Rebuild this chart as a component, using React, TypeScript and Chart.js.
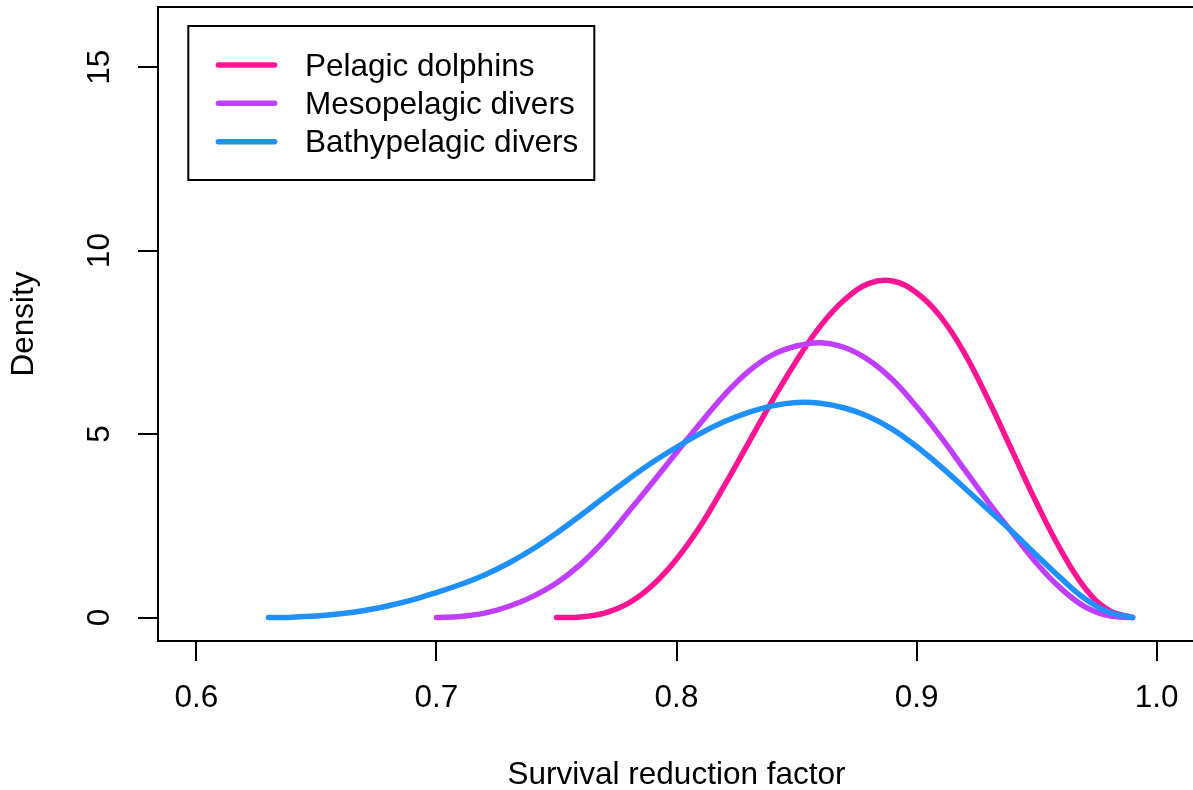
import React, { useEffect, useRef } from "react";
import { Chart, registerables } from "chart.js";

Chart.register(...registerables);

const FONT = "'Liberation Sans', Arial, Helvetica, sans-serif";
const FONT_SIZE = 31.5;

const SERIES_LABELS = ["Pelagic dolphins", "Mesopelagic divers", "Bathypelagic divers"];
const SERIES_COLORS = ["#FF1493", "#BF3EFF", "#1E90FF"];

const PELAGIC_X = [0.75, 0.76, 0.77, 0.78, 0.79, 0.8, 0.81, 0.82, 0.83, 0.84, 0.85, 0.86, 0.87, 0.88, 0.89, 0.9, 0.91, 0.92, 0.93, 0.94, 0.95, 0.96, 0.97, 0.98, 0.99];
const PELAGIC_Y = [0, 0.015, 0.12, 0.39, 0.88, 1.59, 2.5, 3.6, 4.76, 5.92, 7.0, 7.95, 8.66, 9.1, 9.17, 8.85, 8.2, 7.2, 5.92, 4.52, 3.12, 1.85, 0.82, 0.2, 0];

const MESO_X = [0.7, 0.71, 0.72, 0.73, 0.74, 0.75, 0.76, 0.77, 0.78, 0.79, 0.8, 0.81, 0.82, 0.83, 0.84, 0.85, 0.86, 0.87, 0.88, 0.89, 0.9, 0.91, 0.92, 0.93, 0.94, 0.95, 0.96, 0.97, 0.98, 0.99];
const MESO_Y = [0, 0.03, 0.12, 0.3, 0.57, 0.94, 1.45, 2.1, 2.88, 3.68, 4.5, 5.3, 6.07, 6.71, 7.16, 7.4, 7.49, 7.36, 7.02, 6.48, 5.75, 4.93, 4.03, 3.14, 2.3, 1.48, 0.8, 0.3, 0.05, 0];

const BATHY_X = [0.63, 0.64, 0.65, 0.66, 0.67, 0.68, 0.69, 0.7, 0.71, 0.72, 0.73, 0.74, 0.75, 0.76, 0.77, 0.78, 0.79, 0.8, 0.81, 0.82, 0.83, 0.84, 0.85, 0.86, 0.87, 0.88, 0.89, 0.9, 0.91, 0.92, 0.93, 0.94, 0.95, 0.96, 0.97, 0.98, 0.99];
const BATHY_Y = [0, 0.01, 0.04, 0.1, 0.19, 0.32, 0.48, 0.68, 0.9, 1.16, 1.48, 1.86, 2.3, 2.78, 3.28, 3.77, 4.23, 4.64, 5.02, 5.34, 5.59, 5.77, 5.86, 5.84, 5.71, 5.48, 5.13, 4.66, 4.12, 3.53, 2.93, 2.33, 1.7, 1.08, 0.52, 0.15, 0];

const X_TICKS = [0.6, 0.7, 0.8, 0.9, 1.0];
const X_TICK_LABELS = ["0.6", "0.7", "0.8", "0.9", "1.0"];
const Y_TICKS = [0, 5, 10, 15];
const Y_TICK_LABELS = ["0", "5", "10", "15"];
const X_LIMITS = [0.584, 1.016];
const Y_LIMITS = [-0.64, 16.64];
const X_TITLE = "Survival reduction factor";
const Y_TITLE = "Density";

const toPoints = (xs: number[], ys: number[]) => xs.map((x, i) => ({ x, y: ys[i] }));

const boxPlugin = {
  id: "rbox",
  afterDatasetsDraw(chart: any) {
    const { ctx, chartArea } = chart;
    ctx.save();
    ctx.strokeStyle = "#000";
    ctx.lineWidth = 2;
    ctx.strokeRect(chartArea.left, chartArea.top, chartArea.right - chartArea.left, chartArea.bottom - chartArea.top);
    ctx.restore();
  },
};

const legendPlugin = {
  id: "rlegend",
  afterDraw(chart: any) {
    const { ctx } = chart;
    ctx.save();
    ctx.strokeStyle = "#000";
    ctx.lineWidth = 2;
    ctx.strokeRect(188.3, 26, 406, 154);
    chart.data.datasets.forEach((ds: any, i: number) => {
      const y = 65 + i * 38.35;
      ctx.beginPath();
      ctx.lineCap = "round";
      ctx.lineWidth = 5.5;
      ctx.strokeStyle = ds.borderColor;
      ctx.moveTo(218.4, y);
      ctx.lineTo(274.6, y);
      ctx.stroke();
      ctx.fillStyle = "#000";
      ctx.font = `${FONT_SIZE}px ${FONT}`;
      ctx.textAlign = "left";
      ctx.textBaseline = "middle";
      ctx.fillText(ds.label, 305, y + 2);
    });
    ctx.restore();
  },
};

export default function App() {
  const ref = useRef<HTMLCanvasElement | null>(null);

  useEffect(() => {
    if (!ref.current) return;
    const seriesX = [PELAGIC_X, MESO_X, BATHY_X];
    const seriesY = [PELAGIC_Y, MESO_Y, BATHY_Y];
    const chart = new Chart(ref.current, {
      type: "line",
      data: {
        datasets: SERIES_LABELS.map((label, i) => ({
          label,
          data: toPoints(seriesX[i], seriesY[i]),
          borderColor: SERIES_COLORS[i],
          backgroundColor: SERIES_COLORS[i],
          borderWidth: 5.5,
          pointRadius: 0,
          pointHoverRadius: 0,
          fill: false,
          tension: 0.4,
          borderCapStyle: "round",
          borderJoinStyle: "round",
          order: 3 - i,
        })),
      },
      options: {
        animation: false,
        responsive: false,
        devicePixelRatio: 1,
        events: [],
        layout: { padding: { top: 7, right: 5, left: 0, bottom: 0 } },
        plugins: { legend: { display: false }, tooltip: { enabled: false } },
        scales: {
          x: {
            type: "linear",
            min: X_LIMITS[0],
            max: X_LIMITS[1],
            afterBuildTicks: (axis: any) => {
              axis.ticks = X_TICKS.map((v) => ({ value: v }));
            },
            afterFit: (scale: any) => {
              scale.height = 149;
              scale.paddingLeft = 0;
              scale.paddingRight = 0;
            },
            ticks: {
              autoSkip: false,
              maxRotation: 0,
              minRotation: 0,
              padding: 18.6,
              color: "#000",
              font: { family: FONT, size: FONT_SIZE },
              callback: (_v: any, i: number) => X_TICK_LABELS[i],
            },
            grid: { drawOnChartArea: false, drawTicks: true, tickLength: 20, color: "#000", lineWidth: 2 },
            border: { display: false },
            title: {
              display: true,
              text: X_TITLE,
              color: "#000",
              font: { family: FONT, size: FONT_SIZE, lineHeight: 0.9 },
              padding: { top: 0, bottom: 0.7 },
            },
          },
          y: {
            type: "linear",
            min: Y_LIMITS[0],
            max: Y_LIMITS[1],
            afterBuildTicks: (axis: any) => {
              axis.ticks = Y_TICKS.map((v) => ({ value: v }));
            },
            afterFit: (scale: any) => {
              scale.width = 158;
              scale.paddingTop = 0;
              scale.paddingBottom = 0;
            },
            ticks: {
              autoSkip: false,
              minRotation: 90,
              maxRotation: 90,
              crossAlign: "center",
              padding: 20.5,
              color: "#000",
              font: { family: FONT, size: FONT_SIZE },
              callback: (_v: any, i: number) => Y_TICK_LABELS[i],
            },
            grid: { drawOnChartArea: false, drawTicks: true, tickLength: 20, color: "#000", lineWidth: 2 },
            border: { display: false },
            title: {
              display: true,
              text: Y_TITLE,
              color: "#000",
              font: { family: FONT, size: FONT_SIZE, lineHeight: 0.9 },
              padding: { top: 9.9, bottom: 0 },
            },
          },
        },
      },
      plugins: [boxPlugin, legendPlugin],
    } as any);
    return () => chart.destroy();
  }, []);

  return (
    <div style={{ position: "fixed", left: 0, top: 0, width: 1193, height: 790, overflow: "hidden", background: "#fff" }}>
      <canvas ref={ref} width={1200} height={790} style={{ display: "block", width: 1200, height: 790 }} />
    </div>
  );
}
